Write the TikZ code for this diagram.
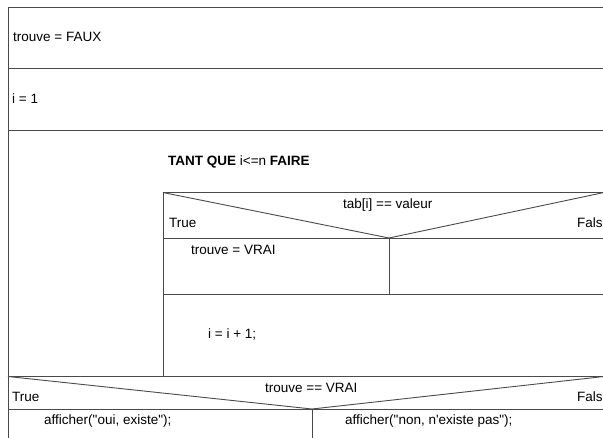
\documentclass[tikz,border=0pt]{standalone}
\usepackage{fontspec}
\setmainfont{Liberation Sans}
\definecolor{rule}{HTML}{4A4A4A}
\newcommand{\dq}{\textquotedbl}
\newcommand{\sq}{\textquotesingle}
\begin{document}
\begin{tikzpicture}[x=1pt,y=-1pt,
  txt/.style={anchor=base west,inner sep=0pt,font=\fontsize{13.5}{16}\selectfont},
  edge/.style={draw=rule,line width=0.9pt}]
\useasboundingbox (0,0) rectangle (603,438);
\clip (0,0) rectangle (603,438);
\fill[white] (0,0) rectangle (603,438);

% outer frame and the two first statements
\draw[edge] (8,7) -- (615,7);
\draw[edge] (8,7) -- (8,445);
\draw[edge] (8,68.5) -- (615,68.5);
\draw[edge] (8,130) -- (615,130);
\node[txt] (init1) at (13,42) {trouve = FAUX};
\node[txt] (init2) at (12,103.5) {i = 1};

% while loop
\node[txt] (loop) at (168,165.5) {\textbf{TANT QUE} i<=n \textbf{FAIRE}};
\draw[edge] (163,192.5) -- (163,376.5);
\draw[edge] (163,192.5) -- (615,192.5);
\draw[edge] (163,192.5) -- (389,238) -- (604,192.5);
\draw[edge] (163,238) -- (615,238);
\draw[edge] (389,238) -- (389,294);
\draw[edge] (163,294) -- (615,294);
\node[txt] (cond1) at (343,209) {tab[i] == valeur};
\node[txt] (t1) at (169,227.5) {True};
\node[txt] (f1) at (577,227.5) {False};
\node[txt] (set) at (191,255) {trouve = VRAI};
\node[txt] (inc) at (208,338.5) {i = i + 1;};

% final test
\draw[edge] (8,376.5) -- (615,376.5);
\draw[edge] (8,376.5) -- (312,409) -- (604,376.5);
\draw[edge] (8,409) -- (615,409);
\draw[edge] (312,409) -- (312,445);
\node[txt] (cond2) at (265,393) {trouve == VRAI};
\node[txt] (t2) at (12,401.5) {True};
\node[txt] (f2) at (577,401.5) {False};
\node[txt] (yes) at (44,425) {afficher(\dq oui, existe\dq);};
\node[txt] (no) at (345,425) {afficher(\dq non, n\sq existe pas\dq);};
\end{tikzpicture}
\end{document}
